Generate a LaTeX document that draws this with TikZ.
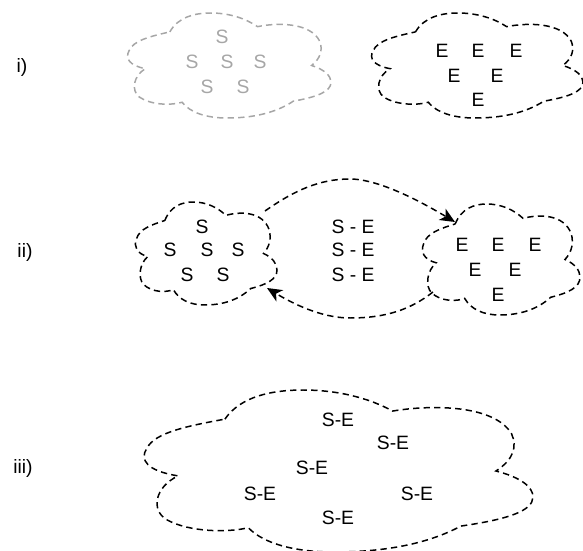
\documentclass[tikz,border=0pt]{standalone}
\usepackage{fontspec}
\setmainfont{Liberation Sans}
\usetikzlibrary{arrows.meta}

% cloud outline in a unit box (v downwards): x0, y0, width, height, options
\newcommand\cloudat[5]{%
  \begin{scope}[shift={(#1,#2)}, xscale=#3, yscale=#4]
    \draw[cloudline, #5] (0.21,0.18)
      .. controls (0.25,0.04) and (0.33,0.0) .. (0.41,0.0)
      .. controls (0.50,0.0) and (0.58,0.05) .. (0.64,0.13)
      .. controls (0.74,0.09) and (0.90,0.09) .. (0.945,0.27)
      .. controls (0.96,0.35) and (0.95,0.43) .. (0.905,0.50)
      .. controls (0.97,0.54) and (1.0,0.60) .. (1.0,0.66)
      .. controls (1.0,0.75) and (0.93,0.80) .. (0.815,0.84)
      .. controls (0.73,0.95) and (0.62,1.0) .. (0.49,1.0)
      .. controls (0.39,1.0) and (0.31,0.95) .. (0.27,0.85)
      .. controls (0.22,0.88) and (0.12,0.88) .. (0.06,0.80)
      .. controls (0.02,0.74) and (0.03,0.60) .. (0.09,0.53)
      .. controls (0.01,0.50) and (-0.01,0.43) .. (0.01,0.36)
      .. controls (0.03,0.26) and (0.12,0.22) .. cycle;
  \end{scope}}

\begin{document}
\begin{tikzpicture}[
    x=0.02cm, y=-0.02cm,
    font=\fontsize{11}{12}\selectfont,
    cloudline/.style={line width=0.85pt, dash pattern=on 3.6pt off 2.4pt},
    faded/.style={black!35},
    item/.style={inner sep=0pt},
    fadeditem/.style={item, text=black!35},
    steplabel/.style={inner sep=0pt},
    flow/.style={cloudline, -{Stealth[length=8.5pt, width=7.5pt, inset=2.4pt]}}
]
\useasboundingbox (0,0) rectangle (583,551);

% Row i): separate sets
\node[steplabel] (li) at (22,67) {i)};
\cloudat{127}{13}{204}{105}{faded}
\node[fadeditem] (s1) at (222,37) {S};
\node[fadeditem] (s2) at (192,62) {S};
\node[fadeditem] (s3) at (227,62) {S};
\node[fadeditem] (s4) at (260,62) {S};
\node[fadeditem] (s5) at (207,87) {S};
\node[fadeditem] (s6) at (243,87) {S};

\cloudat{371}{13}{212}{105}{}
\node[item] (e1) at (442,51) {E};
\node[item] (e2) at (478,51) {E};
\node[item] (e3) at (516,51) {E};
\node[item] (e4) at (454,76) {E};
\node[item] (e5) at (497,76) {E};
\node[item] (e6) at (478,100) {E};

% Row ii): pairing between the sets
\node[steplabel] (lii) at (25,252) {ii)};
\cloudat{135}{202}{142}{103}{}
\node[item] (ss1) at (202,227) {S};
\node[item] (ss2) at (170,250) {S};
\node[item] (ss3) at (207,250) {S};
\node[item] (ss4) at (238,250) {S};
\node[item] (ss5) at (187,275) {S};
\node[item] (ss6) at (223,275) {S};

\node[item] (p1) at (353,227) {S - E};
\node[item] (p2) at (353,250) {S - E};
\node[item] (p3) at (353,275) {S - E};

\cloudat{422}{204}{158}{111}{}
\node[item] (ee1) at (462,245) {E};
\node[item] (ee2) at (498,245) {E};
\node[item] (ee3) at (535,245) {E};
\node[item] (ee4) at (475,270) {E};
\node[item] (ee5) at (515,270) {E};
\node[item] (ee6) at (498,295) {E};

\coordinate (sout) at (265,211);
\coordinate (ein) at (455,222);
\coordinate (eout) at (433,292);
\coordinate (sin) at (267,288);
\draw[flow] (sout) .. controls (295,190) and (320,179) .. (350,179)
    .. controls (380,179) and (425,204) .. (ein);
\draw[flow] (eout) .. controls (410,310) and (385,318) .. (350,318)
    .. controls (320,318) and (290,302) .. (sin);

% Row iii): merged set
\node[steplabel] (liii) at (23,468) {iii)};
\cloudat{143}{390}{390}{162}{}
\node[item] (m1) at (338,420) {S-E};
\node[item] (m2) at (393,443) {S-E};
\node[item] (m3) at (312,468) {S-E};
\node[item] (m4) at (260,494) {S-E};
\node[item] (m5) at (417,494) {S-E};
\node[item] (m6) at (338,518) {S-E};
\end{tikzpicture}
\end{document}
